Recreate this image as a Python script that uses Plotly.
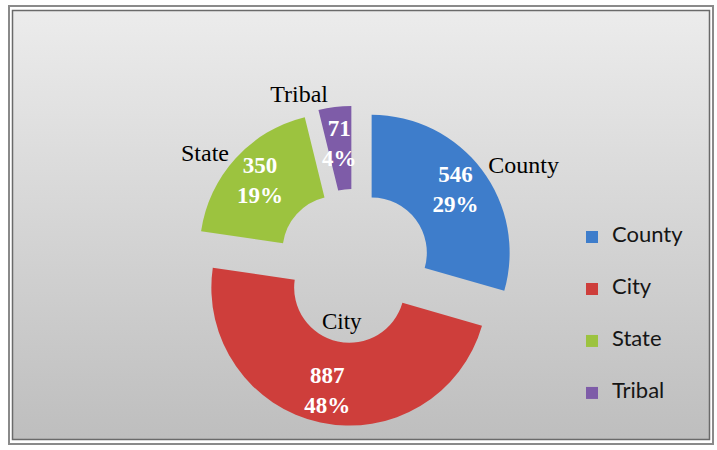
import base64
import plotly.graph_objects as go

categories = ["County", "City", "State", "Tribal"]
values = [546, 887, 350, 71]
colors = ["#3E7DCB", "#CE3E3B", "#9CC33F", "#7E5CA8"]

W, H = 717, 450

def px_dom(cx, cy, half):
    return dict(x=[(cx - half) / W, (cx + half) / W],
                y=[1 - (cy + half) / H, 1 - (cy - half) / H])

CX, CY, R, PULL, HOLE = 354, 266, 138, 0.16, 0.40
main_dom = px_dom(CX, CY, R * (1 + PULL))
R_VAL = 150
PULL_VAL = R * PULL / R_VAL
val_dom = px_dom(CX, CY, R_VAL * (1 + PULL_VAL))
TRIBAL_PULL = 0.19
inner_dom = px_dom(CX, CY, 114 * (1 + TRIBAL_PULL))

legend_labels = ["<br><span style='font-size:22px'>%s</span><br>" % c for c in categories]
value_text = ["%d<br>%d%%" % (v, round(100 * v / sum(values))) for v in values]
small = [v / sum(values) < 0.1 for v in values]
clear = ["rgba(0,0,0,0)"] * len(values)

serif = "Liberation Serif"
common = dict(labels=legend_labels, values=values, sort=False, direction="clockwise",
              rotation=0, hoverinfo="skip")
fig = go.Figure()
# main exploded donut
fig.add_trace(go.Pie(
    **common, hole=HOLE, pull=[PULL] * 4, domain=main_dom,
    marker=dict(colors=colors, line=dict(width=0)),
    textinfo="none", showlegend=True,
))
# value labels (white) for the larger slices
fig.add_trace(go.Pie(
    **common, hole=HOLE, pull=[PULL_VAL] * 4, domain=val_dom,
    marker=dict(colors=clear, line=dict(width=0)),
    text=["" if s else t for s, t in zip(small, value_text)], textinfo="text",
    textposition="inside", insidetextorientation="horizontal",
    textfont=dict(family=serif, size=23, color="white", weight="bold"),
    showlegend=False,
))
# category names outside the ring
fig.add_trace(go.Pie(
    **common, hole=HOLE, pull=[PULL] * 4, domain=main_dom,
    marker=dict(colors=clear, line=dict(width=0)),
    text=["" if c == "City" else c for c in categories], textinfo="text",
    textposition="outside",
    textfont=dict(family=serif, size=24, color="black"),
    showlegend=False,
))
# inner helper: City name in the hole, Tribal value near its thin slice
inner_text, inner_color, inner_weight = [], [], []
for c, s, t in zip(categories, small, value_text):
    if c == "City":
        inner_text.append(c); inner_color.append("black"); inner_weight.append("normal")
    elif s:
        inner_text.append(t); inner_color.append("white"); inner_weight.append("bold")
    else:
        inner_text.append(""); inner_color.append("black"); inner_weight.append("normal")
fig.add_trace(go.Pie(
    **common, pull=[TRIBAL_PULL if s else 0 for s in small], domain=inner_dom,
    marker=dict(colors=clear, line=dict(width=0)),
    text=inner_text, textinfo="text", textposition="inside",
    insidetextorientation="horizontal",
    textfont=dict(family=serif, size=23, color=inner_color, weight=inner_weight),
    showlegend=False,
))

svg = ('<svg xmlns="http://www.w3.org/2000/svg" width="100" height="100" viewBox="0 0 100 100" '
       'preserveAspectRatio="none"><defs><linearGradient id="g" x1="0" y1="0" x2="0" y2="1">'
       '<stop offset="0" stop-color="#ececec"/><stop offset="1" stop-color="#bebebe"/>'
       '</linearGradient></defs><rect width="100" height="100" fill="url(#g)"/></svg>')
src = "data:image/svg+xml;base64," + base64.b64encode(svg.encode()).decode()

x0, y0, x1, y1 = 12.5, 10.5, 709.5, 439.5
fig.add_layout_image(dict(source=src, xref="paper", yref="paper", x=x0 / W, y=1 - y0 / H,
                          sizex=(x1 - x0) / W, sizey=(y1 - y0) / H, xanchor="left",
                          yanchor="top", sizing="stretch", layer="below"))
fig.add_shape(type="rect", xref="paper", yref="paper", x0=9 / W, x1=713 / W,
              y0=1 - 444 / H, y1=1 - 6 / H, line=dict(color="#8a8a8a", width=2), layer="below")
fig.add_shape(type="rect", xref="paper", yref="paper", x0=x0 / W, x1=x1 / W,
              y0=1 - y1 / H, y1=1 - y0 / H, line=dict(color="#6a6a6a", width=1.5), layer="below")

fig.update_layout(
    width=W, height=H, margin=dict(l=0, r=0, t=0, b=0, autoexpand=False),
    paper_bgcolor="white", plot_bgcolor="rgba(0,0,0,0)",
    uniformtext=dict(minsize=23, mode="show"),
    legend=dict(x=572 / W, y=1 - 315 / H, xanchor="left", yanchor="middle",
                font=dict(family="Lato", size=12.56, color="#151515"),
                bgcolor="rgba(0,0,0,0)", itemclick=False, itemdoubleclick=False),
    showlegend=True,
)
fig.write_html("out.html", config={"responsive": False, "displayModeBar": False},
               post_script="document.body.style.margin='0px';document.body.style.overflow='hidden';")
